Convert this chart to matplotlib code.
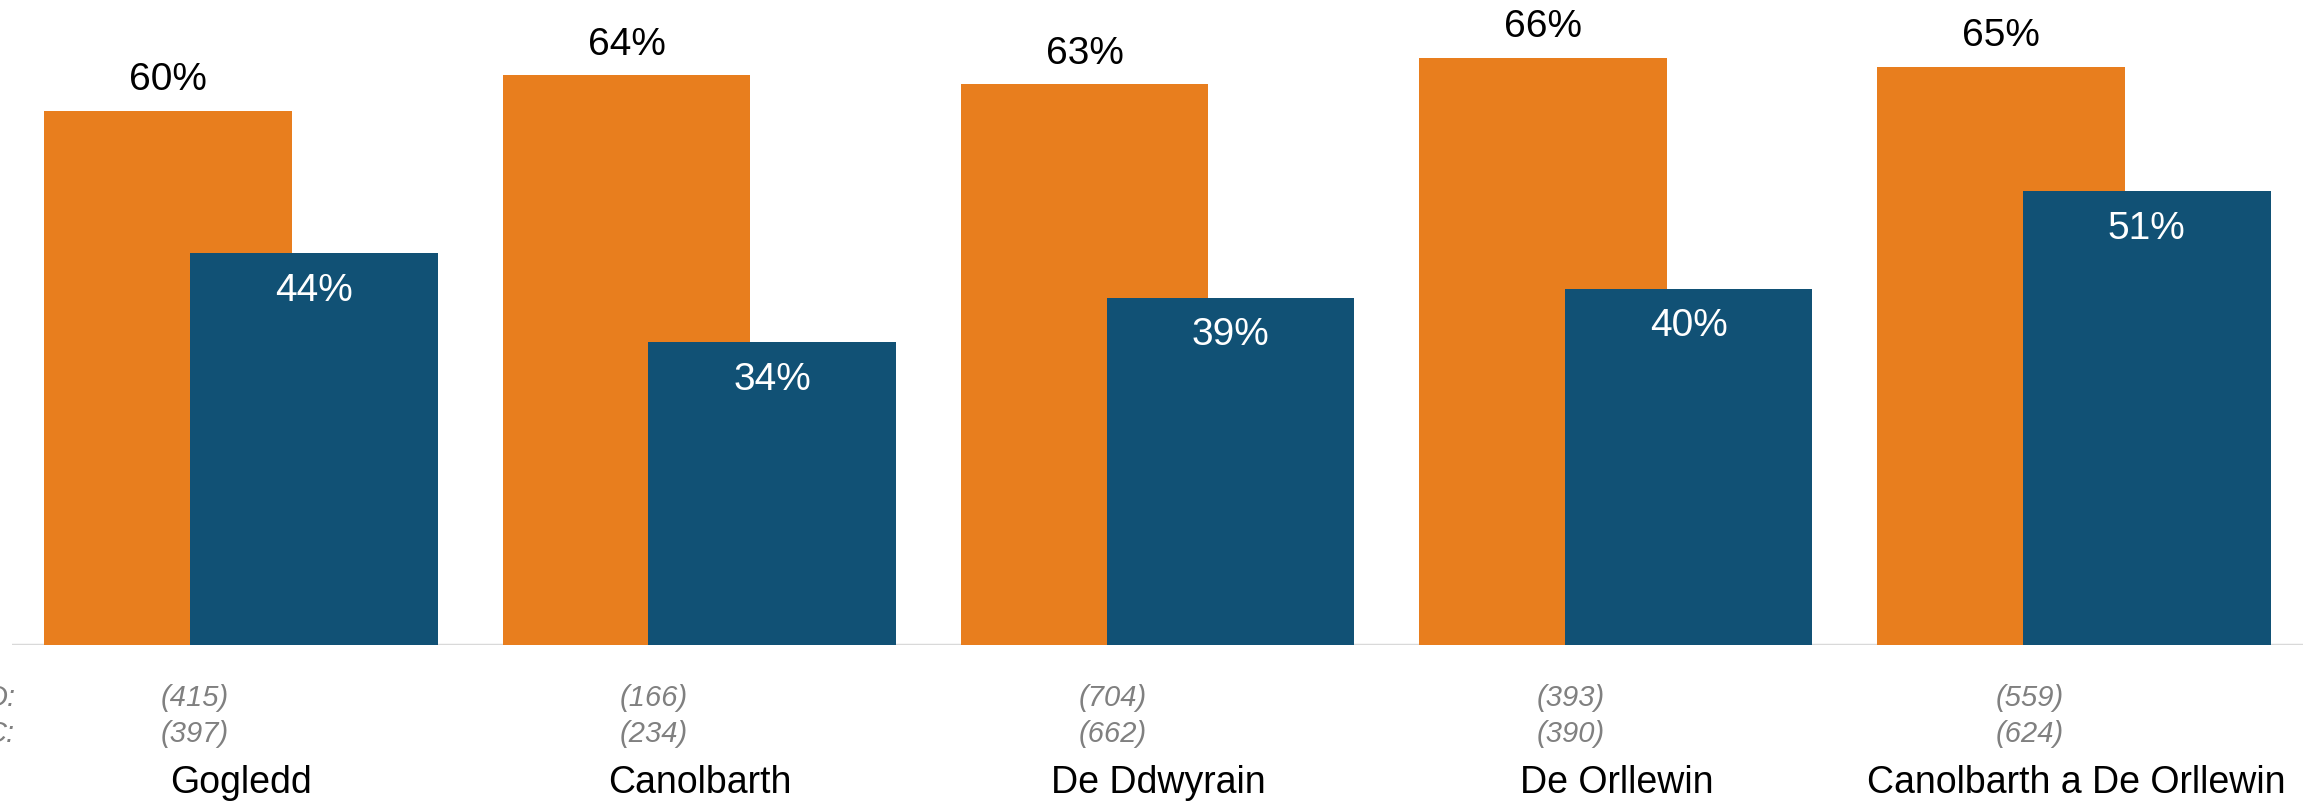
import matplotlib.pyplot as plt
import numpy as np

plt.rcParams['font.family'] = ['Liberation Sans', 'DejaVu Sans']

regions = ['Gogledd', 'Canolbarth', 'De Ddwyrain', 'De Orllewin', 'Canolbarth a De Orllewin']
orange_vals = [60, 64, 63, 66, 65]
blue_vals = [44, 34, 39, 40, 51]
n_orange = [415, 166, 704, 393, 559]
n_blue = [397, 234, 662, 390, 624]
row_labels = ['D:', 'C:']

ORANGE = '#E87E1E'
BLUE = '#115175'

W, H = 2315, 801
fig = plt.figure(figsize=(W / 100, H / 100), dpi=100)
ax = fig.add_axes([12 / W, (H - 645) / H, (2303 - 12) / W, 645 / H])

x = np.arange(len(regions))
bw = 0.5406
off = 0.159

ob = ax.bar(x - off, orange_vals, bw, color=ORANGE, zorder=2)
bb = ax.bar(x + off, blue_vals, bw, color=BLUE, zorder=3)

for rect, v in zip(ob, orange_vals):
    ax.annotate(f'{v}%', (rect.get_x() + rect.get_width() / 2, v),
                xytext=(0, 22), textcoords='offset points',
                ha='center', va='center', fontsize=28, color='black')
for rect, v in zip(bb, blue_vals):
    ax.annotate(f'{v}%', (rect.get_x() + rect.get_width() / 2, v),
                xytext=(0, -27), textcoords='offset points',
                ha='center', va='center', fontsize=28, color='white', zorder=4)

ax.set_xlim(-0.5, 4.5)
ax.set_ylim(0, 645 / 8.9)
ax.axhline(0, color='#D9D9D9', lw=2.5, zorder=1)
for s in ax.spines.values():
    s.set_visible(False)
ax.set_xticks([])
ax.set_yticks([])

# sample sizes and category names below the axis
for i in range(len(regions)):
    cx = 241 + 458.75 * i
    fig.text((cx - 46) / W, 1 - 698 / H, f'({n_orange[i]})', ha='center', va='center',
             fontsize=21, style='italic', color='#808080')
    fig.text((cx - 46) / W, 1 - 734 / H, f'({n_blue[i]})', ha='center', va='center',
             fontsize=21, style='italic', color='#808080')
    fig.text(cx / W, 1 - 783 / H, regions[i], ha='center', va='center',
             fontsize=27, color='black')

fig.text(15 / W, 1 - 698 / H, row_labels[0], ha='right', va='center',
         fontsize=21, style='italic', color='#808080')
fig.text(15 / W, 1 - 734 / H, row_labels[1], ha='right', va='center',
         fontsize=21, style='italic', color='#808080')

fig.savefig('out.png', dpi=100)
